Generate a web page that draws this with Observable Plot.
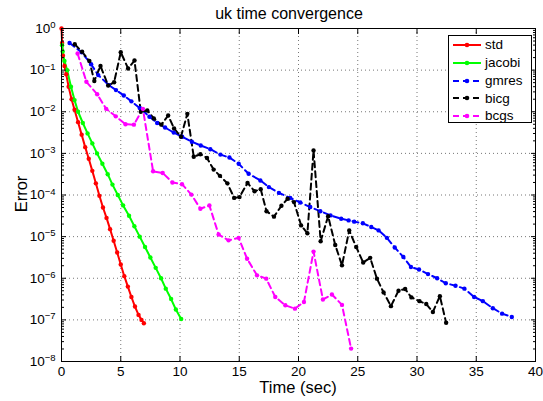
<!DOCTYPE html>
<html>
<head>
<meta charset="utf-8">
<script src="https://cdn.jsdelivr.net/npm/d3@7"></script>
<script src="https://cdn.jsdelivr.net/npm/@observablehq/plot@0.6"></script>
<style>
  html, body { margin: 0; padding: 0; background: #fff; }
  #wrap { position: relative; width: 543px; height: 401px; font-family: "Liberation Sans", Arial, sans-serif; color: #000; }
  #wrap svg.plot { position: absolute; left: 0; top: 0; }
  .lbl { position: absolute; white-space: nowrap; line-height: 1; }
  #legend { position: absolute; left: 448px; top: 35px; width: 84px; height: 88px; box-sizing: border-box; border: 1px solid #000; background: #fff; }
  .row { position: absolute; left: 0; height: 14px; display: flex; align-items: center; font-size: 13.5px; line-height: 1; }
  .row svg { margin-left: 4px; margin-right: 4px; }
</style>
</head>
<body>
<div id="wrap"></div>
<script>
// ---- data (time in sec, log10 of error) ----
const seriesNames = ["std", "jacobi", "gmres", "bicg", "bcgs"];
const seriesColors = ["#ff0000", "#00ff00", "#0000ff", "#000000", "#ff00ff"];
const seriesDashed = [false, false, true, true, true];

const stdTime   = [0, 0.05, 0.12, 0.25, 0.4, 0.6, 0.85, 1.1, 1.4, 1.7, 2.0, 2.3, 2.6, 2.9, 3.2, 3.5, 3.8, 4.1, 4.4, 4.7, 5.0, 5.3, 5.6, 5.9, 6.2, 6.5, 6.75, 6.95];
const stdLogErr = [0, -0.35, -0.65, -0.9, -1.1, -1.4, -1.7, -1.95, -2.25, -2.55, -2.85, -3.13, -3.42, -3.72, -4.02, -4.3, -4.55, -4.82, -5.1, -5.38, -5.67, -5.95, -6.2, -6.45, -6.68, -6.88, -7.0, -7.08];

const jacobiTime   = [0.05, 0.1, 0.25, 0.48, 0.8, 1.1, 1.4, 1.8, 2.2, 2.6, 3.0, 3.45, 3.9, 4.3, 4.75, 5.2, 5.7, 6.15, 6.6, 7.05, 7.5, 7.95, 8.4, 8.8, 9.25, 9.65, 10.1];
const jacobiLogErr = [-0.4, -0.55, -0.78, -1.0, -1.4, -1.72, -2.0, -2.27, -2.52, -2.76, -3.0, -3.25, -3.5, -3.75, -4.0, -4.25, -4.5, -4.75, -5.0, -5.25, -5.5, -5.75, -6.0, -6.25, -6.5, -6.75, -6.98];

const gmresTime   = [0.68, 1.7, 2.5, 3.1, 3.99, 4.6, 5.26, 5.9, 6.6, 7.42, 8.07, 8.74, 9.47, 10.18, 11.0, 11.75, 12.56, 13.41, 14.17, 14.95, 15.79, 16.78, 17.5, 18.35, 19.3, 20.15, 20.99, 21.84, 22.7, 23.6, 24.23, 24.7, 25.43, 26.14, 26.76, 27.46, 28.12, 28.85, 29.49, 30.17, 30.93, 31.7, 32.43, 33.25, 34.0, 34.82, 35.56, 36.4, 37.18, 38.0];
const gmresLogErr = [-0.35, -0.57, -0.86, -1.12, -1.36, -1.48, -1.61, -1.75, -1.91, -2.12, -2.27, -2.38, -2.5, -2.6, -2.72, -2.81, -2.9, -3.03, -3.1, -3.25, -3.49, -3.65, -3.81, -3.95, -4.07, -4.18, -4.29, -4.39, -4.49, -4.57, -4.61, -4.64, -4.68, -4.77, -4.85, -5.03, -5.26, -5.49, -5.73, -5.79, -5.9, -6.0, -6.12, -6.18, -6.25, -6.45, -6.55, -6.72, -6.85, -6.93];

const bicgTime   = [1.12, 1.74, 2.35, 2.77, 3.29, 3.94, 4.44, 5.0, 5.62, 6.16, 6.69, 7.24, 7.79, 8.43, 9.0, 9.5, 10.08, 10.62, 11.16, 11.72, 12.28, 12.84, 13.37, 14.0, 14.57, 15.02, 15.7, 16.29, 16.81, 17.3, 17.93, 18.56, 19.08, 19.62, 20.22, 20.75, 21.27, 21.87, 22.5, 23.1, 23.67, 24.28, 24.87, 25.46, 26.05, 26.62, 27.18, 27.8, 28.44, 29.0, 29.53, 30.21, 30.78, 31.34, 31.93, 32.46];
const bicgLogErr = [-0.38, -0.56, -0.78, -1.26, -0.9, -1.37, -1.29, -0.57, -0.96, -0.77, -2.0, -1.97, -2.16, -2.31, -2.09, -2.4, -2.6, -2.05, -3.08, -3.02, -3.11, -3.39, -3.54, -3.72, -4.07, -4.05, -3.71, -3.91, -3.86, -4.39, -4.52, -4.26, -4.09, -4.17, -4.73, -4.92, -2.93, -5.11, -4.51, -5.2, -5.69, -4.85, -5.25, -5.62, -5.51, -6.01, -6.34, -6.67, -6.3, -6.26, -6.46, -6.55, -6.62, -6.81, -6.43, -7.07];

const bcgsTime   = [1.36, 2.1, 3.01, 3.77, 4.58, 5.4, 6.11, 6.87, 7.73, 8.54, 9.36, 10.17, 10.96, 11.72, 12.48, 13.26, 14.1, 14.95, 15.66, 16.5, 17.28, 18.04, 18.89, 19.7, 20.46, 21.27, 22.06, 22.82, 23.67, 24.44];
const bcgsLogErr = [-0.6, -1.28, -1.58, -1.93, -2.11, -2.3, -2.31, -1.93, -3.43, -3.47, -3.7, -3.74, -3.99, -4.33, -4.25, -4.95, -5.09, -5.03, -5.53, -5.93, -6.01, -6.45, -6.65, -6.73, -6.57, -5.36, -6.51, -6.39, -6.64, -7.69];

const xTicks = [0, 5, 10, 15, 20, 25, 30, 35, 40];
const yExponents = [0, -1, -2, -3, -4, -5, -6, -7, -8];

const title = "uk time convergence";
const xLabel = "Time (sec)";
const yLabel = "Error";

// ---- build table ----
const times = [stdTime, jacobiTime, gmresTime, bicgTime, bcgsTime];
const logs = [stdLogErr, jacobiLogErr, gmresLogErr, bicgLogErr, bcgsLogErr];
const rows = [];
seriesNames.forEach((name, i) => {
  times[i].forEach((t, j) => rows.push({series: name, time: t, error: Math.pow(10, logs[i][j])}));
});
const yTicks = yExponents.map(e => Math.pow(10, e));
const yMinor = [];
for (let e = -8; e < 0; e++) for (let m = 2; m <= 9; m++) yMinor.push(m * Math.pow(10, e));

const lineMarks = seriesNames.map((name, i) => Plot.line(rows.filter(r => r.series === name), {
  x: "time", y: "error", stroke: seriesColors[i], strokeWidth: 2,
  strokeDasharray: seriesDashed[i] ? "6,4" : null
}));
const dotMarks = seriesNames.map((name, i) => Plot.dot(rows.filter(r => r.series === name), {
  x: "time", y: "error", fill: seriesColors[i], r: 2.2, stroke: "none"
}));

const tickOnly = {fill: "none", label: null, stroke: "#000"};

const chart = Plot.plot({
  width: 543, height: 401,
  marginLeft: 61, marginRight: 8, marginTop: 28, marginBottom: 40,
  style: {fontFamily: "'Liberation Sans', Arial, sans-serif", fontSize: "13.5px", background: "transparent", color: "#000", overflow: "visible"},
  x: {domain: [0, 40]},
  y: {type: "log", domain: [1e-8, 1]},
  marks: [
    Plot.gridX(xTicks.slice(1, -1), {stroke: "#777", strokeOpacity: 1, strokeDasharray: "1,3"}),
    Plot.gridY(yTicks.slice(1, -1), {stroke: "#777", strokeOpacity: 1, strokeDasharray: "1,3"}),
    ...lineMarks,
    ...dotMarks,
    // labels
    Plot.axisX(xTicks, {anchor: "bottom", tickSize: 0, tickPadding: 5, label: null, tickFormat: d => String(d)}),
    Plot.axisY(yTicks, {anchor: "left", tickSize: 0, tickPadding: 6, label: null, tickFormat: d => "10^" + Math.round(Math.log10(d))}),
    // inward ticks
    Plot.axisX(xTicks, {anchor: "bottom", tickSize: 5, dy: -5, ...tickOnly}),
    Plot.axisX(xTicks, {anchor: "top", tickSize: 5, dy: 5, ...tickOnly}),
    Plot.axisY(yTicks, {anchor: "left", tickSize: 5, dx: 5, ...tickOnly}),
    Plot.axisY(yTicks, {anchor: "right", tickSize: 5, dx: -5, ...tickOnly}),
    Plot.axisY(yMinor, {anchor: "left", tickSize: 3, dx: 3, ...tickOnly}),
    Plot.axisY(yMinor, {anchor: "right", tickSize: 3, dx: -3, ...tickOnly}),
    Plot.frame({stroke: "#000", strokeWidth: 1})
  ]
});
chart.classList.add("plot");

// superscript exponents on y tick labels
chart.querySelectorAll('g[aria-label="y-axis tick label"] text').forEach(t => {
  const s = t.textContent;
  if (!s.startsWith("10^")) return;
  const ex = s.slice(3).replace("-", "\u2212");
  t.textContent = "";
  const ns = "http://www.w3.org/2000/svg";
  const a = document.createElementNS(ns, "tspan"); a.textContent = "10";
  const b = document.createElementNS(ns, "tspan"); b.textContent = ex;
  b.setAttribute("dy", "-0.5em"); b.setAttribute("font-size", "9.5px");
  t.appendChild(a); t.appendChild(b);
});

const wrap = document.getElementById("wrap");
wrap.appendChild(chart);

function addLabel(text, css) {
  const d = document.createElement("div");
  d.className = "lbl"; d.textContent = text;
  Object.assign(d.style, css);
  wrap.appendChild(d);
}
addLabel(title, {left: "289px", top: "6px", fontSize: "16px", transform: "translateX(-50%)"});
addLabel(xLabel, {left: "298px", top: "379px", fontSize: "16.5px", transform: "translateX(-50%)"});
addLabel(yLabel, {left: "21px", top: "194px", fontSize: "16.5px", transform: "translate(-50%,-50%) rotate(-90deg)"});

// legend
const legend = document.createElement("div");
legend.id = "legend";
seriesNames.forEach((name, i) => {
  const row = document.createElement("div");
  row.className = "row";
  row.style.top = (10 + i * 17.8 - 7 - 1) + "px";
  const dash = seriesDashed[i] ? ' stroke-dasharray="6,4"' : "";
  row.innerHTML = `<svg width="28" height="10"><line x1="0" y1="5" x2="28" y2="5" stroke="${seriesColors[i]}" stroke-width="2"${dash}/><circle cx="14" cy="5" r="2.3" fill="${seriesColors[i]}"/></svg><span>${name}</span>`;
  legend.appendChild(row);
});
wrap.appendChild(legend);
</script>
</body>
</html>
